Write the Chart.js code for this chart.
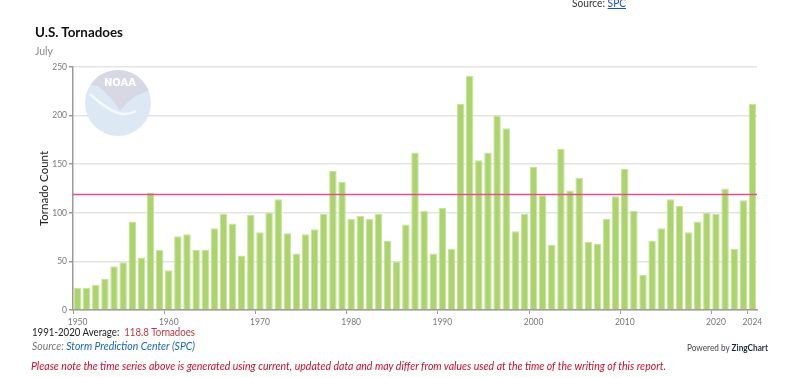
<!DOCTYPE html>
<html>
<head>
<meta charset="utf-8">
<script src="https://cdn.jsdelivr.net/npm/chart.js@4"></script>
<style>
  html, body { margin:0; padding:0; background:#fff; width:800px; height:378px; overflow:hidden; font-family: Lato, "Noto Sans", sans-serif; }
  #wrap { position:relative; width:800px; height:378px; }
  canvas { position:absolute; left:0; top:0; }
  .t { position:absolute; white-space:nowrap; line-height:1; transform-origin: 0 50%; }
  #src { left:572px; color:#333; }
  #src a { color:#1a4fd6; text-decoration:underline; }
  #title { left:35px; font-weight:bold; color:#111; }
  #sub { left:35px; color:#8a8a8a; }
  #avg { left:32px; color:#222; }
  #avg span { color:#c0393f; }
  #cite { left:32px; font-style:italic; color:#777; }
  #cite span { color:#1565c0; }
  #note { left:31px; font-style:italic; color:#c8102e; }
  #zc { left:687px; color:#444; }
  #zc b { color:#1d2b3a; }
</style>
</head>
<body>
<div id="wrap">
  <canvas id="c" width="800" height="378"></canvas>
  <div class="t" id="src">Source: <a>SPC</a></div>
  <div class="t" id="title">U.S. Tornadoes</div>
  <div class="t" id="sub">July</div>
  <div class="t" id="avg">1991-2020 Average:&nbsp; <span>118.8 Tornadoes</span></div>
  <div class="t" id="cite">Source: <span>Storm Prediction Center (SPC)</span></div>
  <div class="t" id="note">Please note the time series above is generated using current, updated data and may differ from values used at the time of the writing of this report.</div>
  <div class="t" id="zc">Powered by <b>ZingChart</b></div>
</div>
<script>
const years = [];
for (let y = 1950; y <= 2024; y++) years.push(String(y));

const tornadoCounts = [
  23, 23, 26, 32, 45, 49, 91, 54, 121, 62,
  41, 76, 78, 62, 62, 84, 99, 89, 56, 98,
  80, 100, 114, 79, 58, 78, 83, 99, 143, 132,
  94, 97, 94, 99, 71, 50, 88, 162, 102, 58,
  105, 63, 212, 241, 154, 162, 200, 187, 81, 99,
  147, 118, 67, 166, 123, 136, 70, 68, 94, 117,
  145, 102, 36, 71, 84, 114, 107, 80, 91, 100,
  99, 125, 63, 113, 212
];

const xTickLabels = ['1950','1960','1970','1980','1990','2000','2010','2020','2024'];
const yTickValues = [0, 50, 100, 150, 200, 250];
const averageValue = 118.8;

// size text blocks to the reference font height, then stretch to reference widths
function fitText(id, size, width, centerY) {
  const el = document.getElementById(id);
  el.style.fontSize = size + 'px';
  const w = el.getBoundingClientRect().width;
  el.style.transform = 'scaleX(' + (width / w) + ')';
  el.style.top = (centerY - size * 0.55) + 'px';
}
fitText('src', 11.5, 54, 3);
fitText('title', 13, 88, 33);
fitText('sub', 11.5, 18, 51);
fitText('avg', 10.8, 163, 333);
fitText('cite', 10.8, 163, 347);
fitText('note', 11.5, 635, 366.5);
fitText('zc', 8.6, 81, 349);

const noaaLogo = {
  id: 'noaaLogo',
  beforeDatasetsDraw(chart) {
    const {ctx, chartArea} = chart;
    const cx = chartArea.left + 45, cy = chartArea.top + 36, r = 33;
    ctx.save();
    ctx.beginPath();
    ctx.arc(cx, cy, r, 0, Math.PI * 2);
    ctx.fillStyle = '#dce9f5';
    ctx.fill();
    ctx.clip();
    ctx.beginPath();
    ctx.moveTo(cx - r, cy - r);
    ctx.lineTo(cx - r, cy - 19);
    ctx.lineTo(cx - 20, cy - 17);
    ctx.quadraticCurveTo(cx - 6, cy - 6, cx + 2, cy + 8);
    ctx.quadraticCurveTo(cx + 12, cy - 6, cx + 29, cy - 12);
    ctx.lineTo(cx + r, cy - 14);
    ctx.lineTo(cx + r, cy - r);
    ctx.closePath();
    ctx.fillStyle = '#d6d9e4';
    ctx.fill();
    ctx.beginPath();
    ctx.moveTo(cx - 28, cy - 9);
    ctx.quadraticCurveTo(cx - 10, cy + 8, cx + 4, cy + 11);
    ctx.quadraticCurveTo(cx + 12, cy + 11, cx + 18, cy + 8);
    ctx.strokeStyle = '#f4f8fc';
    ctx.lineWidth = 2.5;
    ctx.stroke();
    ctx.fillStyle = '#ffffff';
    ctx.font = 'bold 10px "DejaVu Sans"';
    ctx.textAlign = 'center';
    ctx.textBaseline = 'middle';
    ctx.fillText('NOAA', cx + 2, cy - 20);
    ctx.restore();
  }
};

const avgLine = {
  id: 'avgLine',
  afterDatasetsDraw(chart) {
    const {ctx, chartArea, scales} = chart;
    const y = scales.y.getPixelForValue(averageValue);
    ctx.save();
    ctx.beginPath();
    ctx.moveTo(chartArea.left, y);
    ctx.lineTo(chartArea.right, y);
    ctx.strokeStyle = '#e2508f';
    ctx.lineWidth = 1.5;
    ctx.stroke();
    ctx.restore();
  }
};

new Chart(document.getElementById('c'), {
  type: 'bar',
  data: {
    labels: years,
    datasets: [{
      label: 'Tornado Count',
      data: tornadoCounts,
      backgroundColor: '#acd46d',
      borderColor: '#c6e39d',
      borderWidth: 1,
      barPercentage: 0.82,
      categoryPercentage: 1.0
    }]
  },
  options: {
    responsive: false,
    animation: false,
    layout: { padding: { left: 0, right: 43, top: 67, bottom: 48 } },
    plugins: { legend: { display: false }, tooltip: { enabled: false } },
    scales: {
      x: {
        offset: true,
        afterFit(s) { s.height = 20; },
        border: { color: '#9a9a9a', width: 1.5 },
        grid: {
          offset: true,
          drawOnChartArea: false,
          tickLength: 4,
          color: (c) => (xTickLabels.includes(years[c.index]) ? '#9a9a9a' : 'rgba(0,0,0,0)')
        },
        ticks: {
          autoSkip: false,
          maxRotation: 0,
          padding: 3,
          color: '#777',
          font: { family: 'Lato', size: 8.5 },
          callback: function(v, i) { return xTickLabels.includes(years[i]) ? years[i] : ''; }
        }
      },
      y: {
        min: 0,
        max: 250,
        afterFit(s) { s.width = 73; },
        afterBuildTicks(s) { s.ticks = yTickValues.map(v => ({ value: v })); },
        border: { color: '#9a9a9a', width: 1.5 },
        grid: { color: '#e3e3e3', lineWidth: 1.5, tickLength: 4, tickColor: '#9a9a9a' },
        ticks: { color: '#777', padding: 2, font: { family: 'Lato', size: 8.5 } },
        title: {
          display: true,
          text: 'Tornado Count',
          color: '#222',
          font: { family: 'Lato', size: 11.5 },
          padding: { top: 37, bottom: 0 }
        }
      }
    }
  },
  plugins: [noaaLogo, avgLine]
});
</script>
</body>
</html>
